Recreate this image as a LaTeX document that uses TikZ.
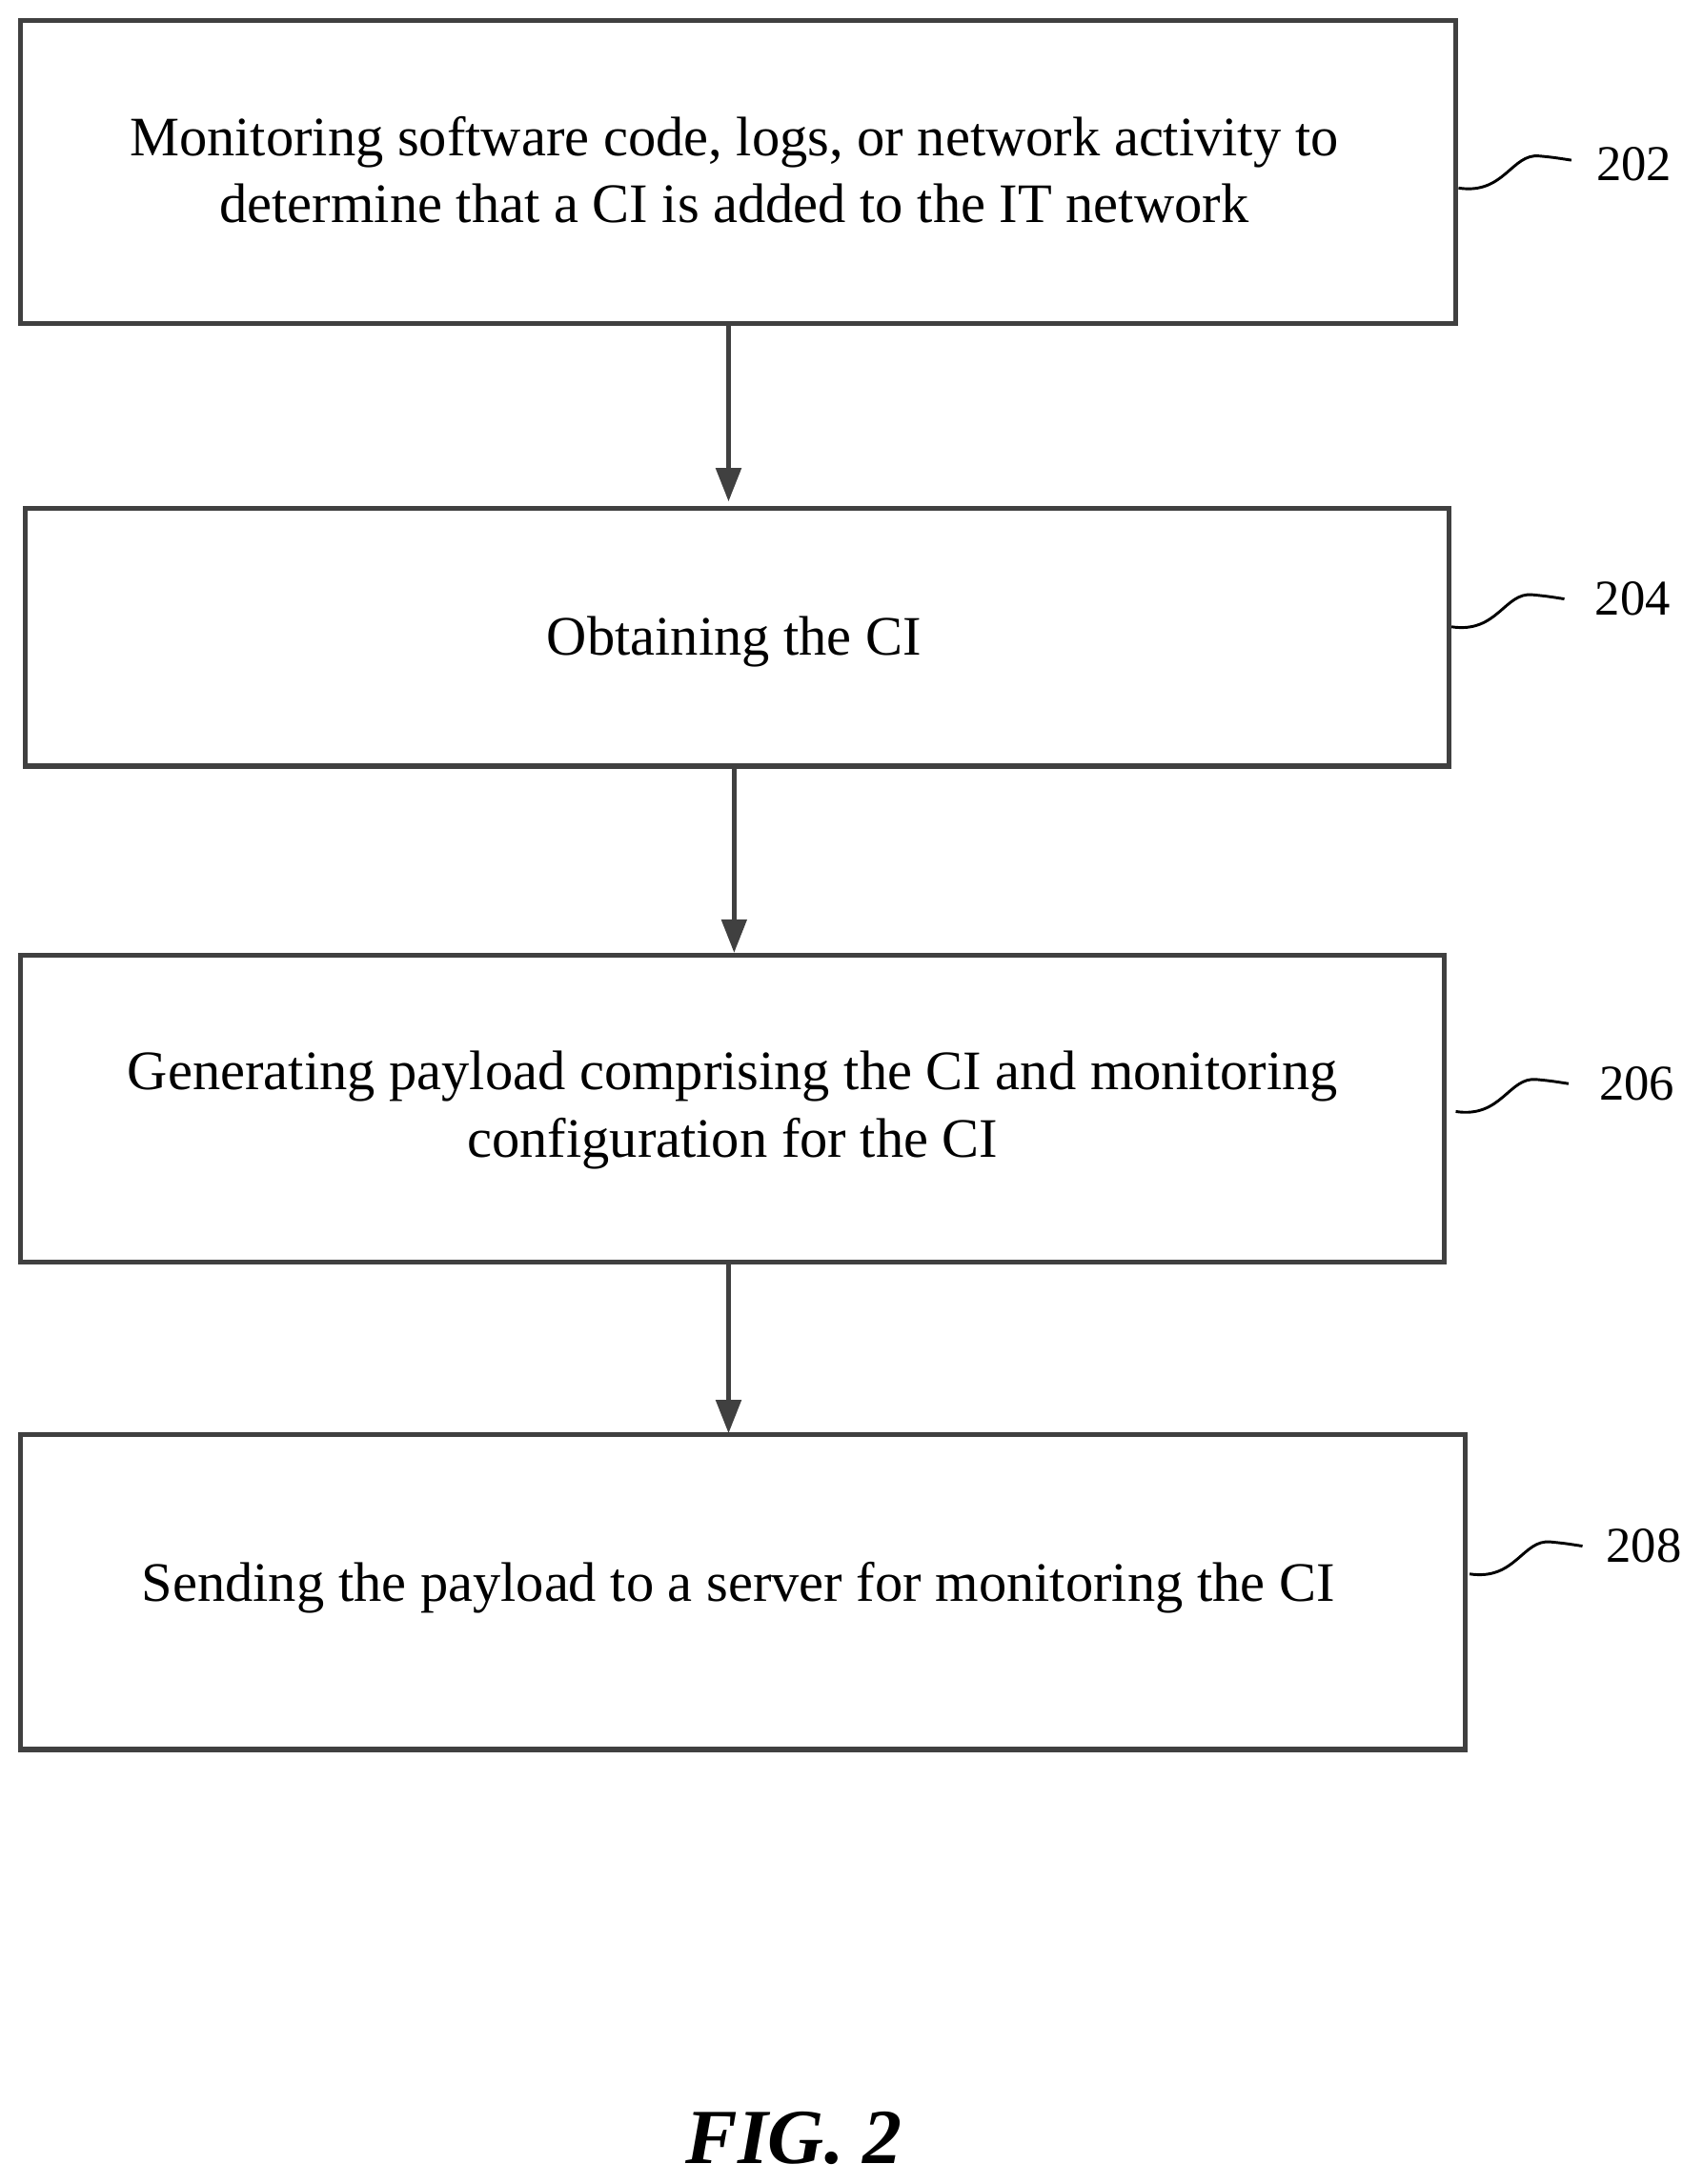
\documentclass[tikz,border=0pt]{standalone}
\usepackage{fontspec}
\setmainfont{Liberation Serif}
\usetikzlibrary{arrows.meta}
\begin{document}
\begin{tikzpicture}[x=1pt,y=-1pt,
  box/.style={draw=black!75,line width=3.5pt,fill=white},
  txt/.style={font=\fontsize{40}{48}\selectfont,align=center},
  lab/.style={font=\fontsize{36}{40}\selectfont},
  arr/.style={line width=3pt,draw=black!75,-{Triangle[length=24pt,width=18pt]}},
  sq/.style={line width=2pt}]
\useasboundingbox (0,0) rectangle (1222,1568);
\draw[box] (15,15) rectangle (1045,232);
\draw[box] (18,365) rectangle (1040,550);
\draw[box] (15,686) rectangle (1037,906);
\draw[box] (15,1030) rectangle (1052,1256);
\node[txt] (t1) at (527,122) {Monitoring software code, logs, or network activity to\\determine that a CI is added to the IT network};
\node[txt] (t2) at (527,461) {Obtaining the CI};
\node[txt] (t3) at (526,797) {Generating payload comprising the CI and monitoring\\configuration for the CI};
\node[txt] (t4) at (530,1140) {Sending the payload to a server for monitoring the CI};
\coordinate (a1) at (523,234); \coordinate (b1) at (523,360);
\coordinate (a2) at (527,552); \coordinate (b2) at (527,684);
\coordinate (a3) at (523,908); \coordinate (b3) at (523,1029);
\draw[arr] (a1) -- (b1);
\draw[arr] (a2) -- (b2);
\draw[arr] (a3) -- (b3);
\node[lab] (l1) at (1173,118) {202};
\node[lab] (l2) at (1172,430) {204};
\node[lab] (l3) at (1175,778) {206};
\node[lab] (l4) at (1180,1110) {208};
\draw[sq] (1047,135) .. controls (1080,140) and (1085,110) .. (1105,112) .. controls (1115,113) .. (1128,115);
\draw[sq] (1042,450) .. controls (1075,455) and (1080,425) .. (1100,427) .. controls (1110,428) .. (1123,430);
\draw[sq] (1045,798) .. controls (1078,803) and (1083,773) .. (1103,775) .. controls (1113,776) .. (1126,778);
\draw[sq] (1055,1130) .. controls (1088,1135) and (1093,1105) .. (1113,1107) .. controls (1123,1108) .. (1136,1110);
\node[font=\fontsize{56}{60}\selectfont\bfseries\itshape] (fig) at (570,1535) {FIG. 2};
\end{tikzpicture}
\end{document}
